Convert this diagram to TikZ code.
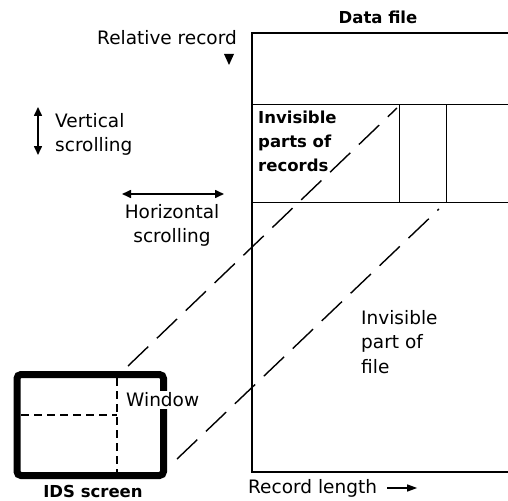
\documentclass[tikz,border=0pt]{standalone}
\usepackage{fontspec}
\setmainfont{DejaVu Sans}
\usetikzlibrary{arrows.meta}

\begin{document}
\begin{tikzpicture}[x=1pt,y=-1pt,
    every node/.style={inner sep=0pt, font=\fontsize{18.5}{24.5}\selectfont},
    boldlabel/.style={font=\fontsize{16.5}{24}\selectfont\bfseries},
    frame/.style={line width=1.6pt},
    cellline/.style={line width=1pt},
    scanline/.style={line width=1.4pt, dash pattern=on 28pt off 12pt},
    scrollarrow/.style={line width=1.6pt, {Triangle[length=9pt,width=8pt]}-{Triangle[length=9pt,width=8pt]}}]

    \useasboundingbox (0,0) rectangle (508,500);

    % Data file (open on the right)
    \coordinate (ftl) at (252,33);
    \coordinate (fbl) at (252,472);
    \draw[frame] (508,33) -- (ftl) -- (fbl) -- (508,472);
    \node[boldlabel] (datafile) at (378,17) {Data file};

    % Records shown on the screen
    \coordinate (rtl) at (252,105);
    \coordinate (rbl) at (252,202);
    \draw[cellline] (rtl) -- (508,105);
    \draw[cellline] (rbl) -- (508,202);
    \draw[cellline] (399,105) -- (399,202);
    \draw[cellline] (446,105) -- (446,202);
    \node[boldlabel, anchor=north west, align=left] (invrec) at (258,111) {Invisible\\parts of\\records};

    % Relative record marker
    \node[anchor=east] (relrec) at (237,38) {Relative record};
    \fill (224,54) -- (234,54) -- (229,65) -- cycle;

    % Scrolling arrows
    \draw[scrollarrow] (38,107) -- (38,155);
    \node[anchor=north west, align=left] (vscroll) at (55,113) {Vertical\\scrolling};
    \draw[scrollarrow] (122,194) -- (224,194);
    \node[anchor=north, align=center] (hscroll) at (172,204) {Horizontal\\scrolling};

    % Invisible part of file
    \node[anchor=north west, align=left] (invfile) at (361,310) {Invisible\\part of\\file};

    % IDS screen with window
    \draw[line width=7pt, rounded corners=4pt] (17,374.5) rectangle (163.5,475.5);
    \draw[line width=1.2pt, dash pattern=on 8pt off 5pt] (117,378) -- (117,472);
    \draw[line width=1.2pt, dash pattern=on 8pt off 5pt] (21,415) -- (117,415);
    \node[anchor=west, fill=white, inner sep=2pt] (window) at (124,400) {Window};
    \node[boldlabel] (screen) at (93,491) {IDS screen};

    % Projection of the window onto the file
    \coordinate (p1) at (128,366);
    \coordinate (q1) at (397,108);
    \coordinate (p2) at (177,459);
    \coordinate (q2) at (439,209);
    \draw[scanline] (p1) -- (q1);
    \draw[scanline] (p2) -- (q2);

    % Record length
    \node[anchor=west] (reclen) at (248,488) {Record length};
    \draw[line width=1.4pt, -{Triangle[length=10pt,width=7pt]}] ([xshift=10pt]reclen.east) -- ++(30,0);
\end{tikzpicture}
\end{document}
